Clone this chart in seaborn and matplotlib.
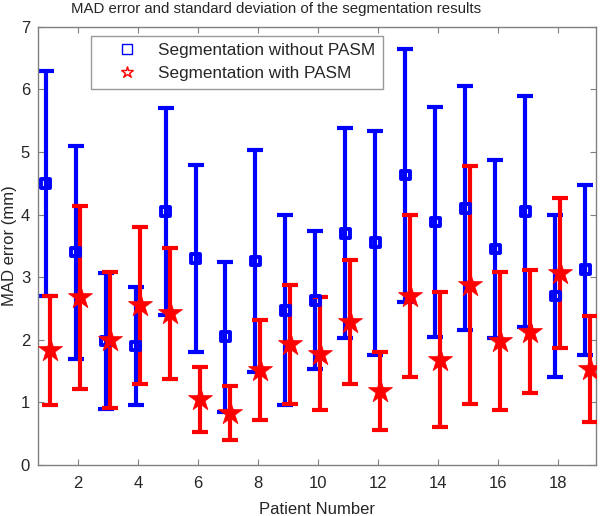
import numpy as np
import pandas as pd
import matplotlib
matplotlib.use("Agg")
import matplotlib.pyplot as plt
import seaborn as sns
from matplotlib.lines import Line2D

patients = list(range(1, 20))
mean_without = [4.50, 3.40, 1.98, 1.90, 4.05, 3.30, 2.05, 3.26, 2.47, 2.63,
                3.70, 3.55, 4.63, 3.88, 4.10, 3.45, 4.05, 2.70, 3.12]
std_without = [1.80, 1.70, 1.08, 0.95, 1.65, 1.50, 1.20, 1.77, 1.52, 1.10,
               1.68, 1.79, 2.02, 1.84, 1.95, 1.42, 1.85, 1.30, 1.36]
mean_with = [1.83, 2.68, 2.00, 2.55, 2.42, 1.05, 0.83, 1.52, 1.93, 1.78,
             2.28, 1.18, 2.70, 1.68, 2.88, 1.98, 2.13, 3.07, 1.53]
std_with = [0.87, 1.46, 1.09, 1.25, 1.05, 0.52, 0.43, 0.80, 0.95, 0.91,
            0.99, 0.62, 1.30, 1.08, 1.90, 1.11, 0.98, 1.20, 0.85]

label_without = "Segmentation without PASM"
label_with = "Segmentation with PASM"

sns.set_style("ticks")
plt.rcParams["font.family"] = ["Liberation Sans", "DejaVu Sans"]

fig = plt.figure(figsize=(6.0, 5.16), dpi=100)
ax = fig.add_axes([0.064, 0.099, 0.929, 0.849])

offset = 0.08
x = np.array(patients, dtype=float)

df_wo = pd.DataFrame({"patient": x - offset, "mad": mean_without})
df_w = pd.DataFrame({"patient": x + offset, "mad": mean_with})

ax.errorbar(x - offset, mean_without, yerr=std_without, fmt="none",
            ecolor="#0000ff", elinewidth=3.0, capsize=5.5, capthick=3.0, zorder=2)
ax.errorbar(x + offset, mean_with, yerr=std_with, fmt="none",
            ecolor="#ff0000", elinewidth=3.0, capsize=5.5, capthick=3.0, zorder=3)

sns.scatterplot(data=df_wo, x="patient", y="mad", marker="s", s=38,
                facecolor="none", edgecolor="#0000ff", linewidth=2.8,
                ax=ax, zorder=4, legend=False)
sns.scatterplot(data=df_w, x="patient", y="mad", marker="*", s=330,
                color="#ff0000", edgecolor="#ff0000", linewidth=0.5,
                ax=ax, zorder=5, legend=False)

ax.set_xlim(0.68, 19.27)
ax.set_ylim(0, 7)
ax.set_xticks(range(2, 19, 2))
ax.set_yticks(range(0, 8))
ax.tick_params(direction="in", top=True, right=True, length=4,
               color="#808080", labelsize=12, width=0.8)
ax.tick_params(axis="x", pad=8)
ax.tick_params(axis="y", pad=6)
for s in ax.spines.values():
    s.set_color("#808080")
    s.set_linewidth(1.0)

ax.set_xlabel("Patient Number", fontsize=12, labelpad=8)
ax.set_ylabel("MAD error (mm)", fontsize=12, labelpad=3)
ax.set_title("MAD error and standard deviation of the segmentation results",
             fontsize=10.8, pad=10, x=0.427)

handles = [
    Line2D([], [], linestyle="none", marker="s", markersize=7,
           markerfacecolor="none", markeredgecolor="#0000ff", markeredgewidth=1.0),
    Line2D([], [], linestyle="none", marker="*", markersize=9,
           markerfacecolor="none", markeredgecolor="#ff0000", markeredgewidth=1.0),
]
leg = ax.legend(handles, [label_without, label_with], loc="upper left",
                bbox_to_anchor=(0.095, 0.98), fontsize=12.3, frameon=True,
                fancybox=False, edgecolor="#808080", handletextpad=0.16,
                borderpad=0.45, labelspacing=0.45, handlelength=3.3,
                borderaxespad=0.0)
leg.get_frame().set_linewidth(1.0)

fig.savefig("out.png", dpi=100)
